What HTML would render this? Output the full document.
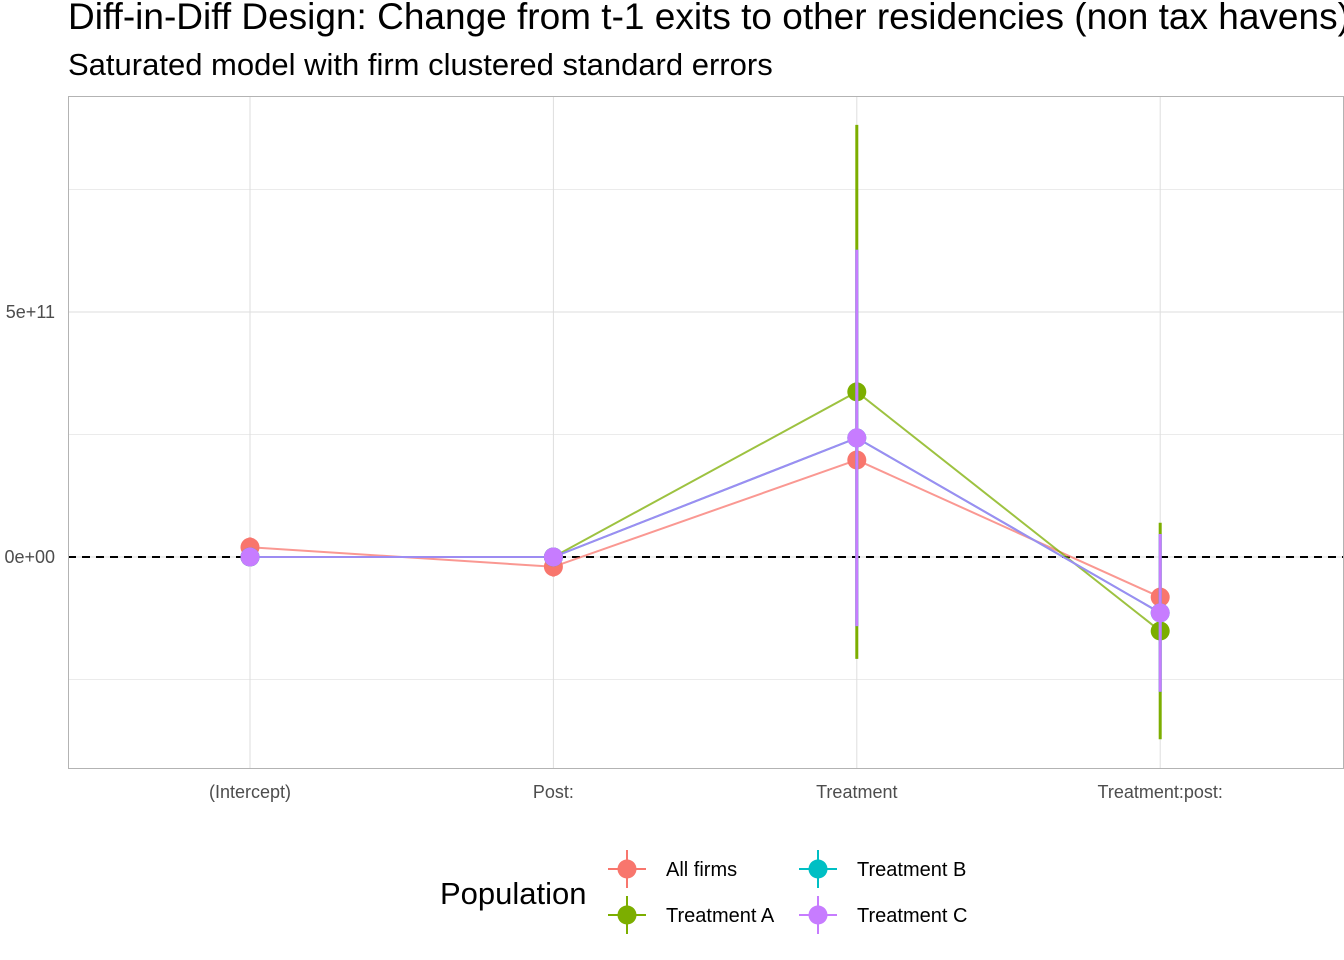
<!DOCTYPE html>
<html><head><meta charset="utf-8"><style>
body{margin:0;background:#fff;font-family:"Liberation Sans",sans-serif;}
svg{display:block}
</style></head><body>
<svg id="chart" width="1344" height="960">
<text x="68" y="29" font-size="37" fill="#000">Diff-in-Diff Design: Change from t-1 exits to other residencies (non tax havens)</text>
<text x="68" y="75" font-size="31" fill="#000">Saturated model with firm clustered standard errors</text>
<g id="grid"></g>
<g id="marks"></g>
<rect x="68.5" y="96.5" width="1275" height="672" fill="none" stroke="#b3b3b3"/>
<g>
<text x="440" y="904" font-size="31">Population</text>
<g id="legend"></g>
</g>
</svg>
<script>
const categories=["(Intercept)","Post:","Treatment","Treatment:post:"];
const seriesNames=["All firms","Treatment A","Treatment B","Treatment C"];
const seriesColors=["#F8766D","#7CAE00","#00BFC4","#C77CFF"];
const allFirms=[0.2e11,-0.2e11,1.98e11,-0.82e11];
const allFirmsSE=[0.2e11,0.2e11,0.2e11,0.1e11];
const treatA=[0,0,3.37e11,-1.51e11];
const treatASE=[0.05e11,0.05e11,5.45e11,2.21e11];
const treatB=[0,0,2.43e11,-1.14e11];
const treatBSE=[0.02e11,0.02e11,3.84e11,1.61e11];
const treatC=[0,0,2.43e11,-1.14e11];
const treatCSE=[0.02e11,0.02e11,3.84e11,1.61e11];
const yTicks=[0,5e11];
const yTickLabels=["0e+00","5e+11"];
const yMinor=[-2.5e11,2.5e11,7.5e11];
const NS="http://www.w3.org/2000/svg";
const yS=v=>557-v/1e11*49;
const xS=i=>250+i*303.4;
function mk(t,a,p){const e=document.createElementNS(NS,t);for(const k in a)e.setAttribute(k,a[k]);p.appendChild(e);return e;}
const grid=document.getElementById('grid'),marks=document.getElementById('marks'),svg=document.getElementById('chart');
yMinor.forEach(v=>{const l=mk('line',{x1:68,x2:1343,y1:yS(v),y2:yS(v),stroke:'#ebebeb','stroke-width':1},grid);

});
yTicks.forEach((v,i)=>{const l=mk('line',{x1:68,x2:1343,y1:yS(v),y2:yS(v),stroke:'#dedede','stroke-width':1},grid);


const t=mk('text',{x:55,y:yS(v)+6,'font-size':18,fill:'#4d4d4d','text-anchor':'end'},svg);t.textContent=yTickLabels[i];

});
categories.forEach((c,i)=>{const l=mk('line',{x1:xS(i),x2:xS(i),y1:96,y2:768,stroke:'#dedede','stroke-width':1},grid);


const t=mk('text',{x:xS(i),y:798,'font-size':18,fill:'#4d4d4d','text-anchor':'middle'},svg);t.textContent=c;

});
const zl=mk('line',{x1:68,x2:1343,y1:yS(0),y2:yS(0),stroke:'#000','stroke-width':2,'stroke-dasharray':'8,6'},marks);


const vals=[allFirms,treatA,treatB,treatC],ses=[allFirmsSE,treatASE,treatBSE,treatCSE];
const lineColors=["#F8766D","#7CAE00","#00BFC4","#9d8cf2"];
const lineOps=[0.75,0.75,0.75,1];
vals.forEach((s,k)=>{
const pl=mk('polyline',{points:s.map((v,i)=>xS(i)+','+yS(v)).join(' '),fill:'none',stroke:lineColors[k],'stroke-width':2,opacity:lineOps[k]},marks);

});
vals.forEach((s,k)=>{s.forEach((v,i)=>{
const e=mk('line',{x1:xS(i),x2:xS(i),y1:yS(v+ses[k][i]),y2:yS(v-ses[k][i]),stroke:seriesColors[k],'stroke-width':3},marks);


const c=mk('circle',{cx:xS(i),cy:yS(v),r:9.5,fill:seriesColors[k]},marks);

});});
const lg=document.getElementById('legend');
const pos=[[627,869],[627,915],[818,869],[818,915]];
seriesNames.forEach((n,k)=>{const [x,y]=pos[k];
const g=mk('g',{},lg);


mk('line',{x1:x-19,x2:x+19,y1:y,y2:y,stroke:seriesColors[k],'stroke-width':2},g);
mk('line',{x1:x,x2:x,y1:y-19,y2:y+19,stroke:seriesColors[k],'stroke-width':2},g);
mk('circle',{cx:x,cy:y,r:9.5,fill:seriesColors[k]},g);
const t=mk('text',{x:x+39,y:y+7,'font-size':20,fill:'#000'},g);t.textContent=n;});
</script>
</body></html>
